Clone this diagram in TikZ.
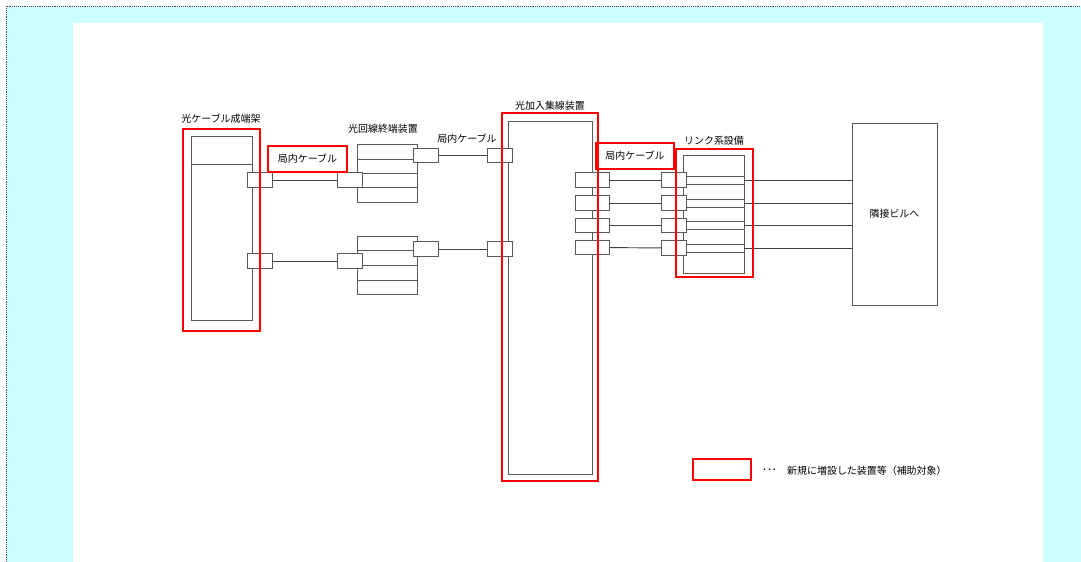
\documentclass[tikz,border=0pt]{standalone}
\usepackage{fontspec}
\setmainfont{Noto Sans CJK JP}
\usetikzlibrary{positioning}
\definecolor{bgcyan}{HTML}{CCFFFF}

\begin{document}
\begin{tikzpicture}[
  x=0.03cm, y=-0.03cm,
  every node/.style={font=\fontsize{8.5}{10}\selectfont, inner sep=0pt},
  unit/.style={draw=black!65, line width=0.8pt},
  port/.style={draw=black!65, fill=white, line width=0.8pt, minimum width=0.75cm, minimum height=0.43cm},
  wideport/.style={port, minimum width=1.02cm},
  redbox/.style={draw=red, line width=2.4pt},
  cable/.style={draw=black!75, line width=0.8pt}
]
\useasboundingbox (0,0) rectangle (1081,562);
\fill[bgcyan] (6,6) rectangle (1081,562);
\fill[white] (73,23) rectangle (1043,562);
\draw[black!70, dash pattern=on 0.8pt off 0.8pt, line width=0.8pt] (6,562) -- (6,6) -- (1081,6);

% 光ケーブル成端架
\node[unit, minimum width=1.83cm, minimum height=5.52cm] (frame) at (221.5,228) {};
\draw[unit] (frame.west |- 0,164) -- (frame.east |- 0,164);
\node at (221,119) {光ケーブル成端架};
\node[port] (fp1) at (259.5,180) {};
\node[port] (fp2) at (259.5,261) {};

% 光回線終端装置
\node[unit, minimum width=1.8cm, minimum height=1.74cm] (onu1) at (387,173) {};
\node[unit, minimum width=1.8cm, minimum height=1.74cm] (onu2) at (387,265) {};
\foreach \y in {159,173,187} \draw[unit] (onu1.west |- 0,\y) -- (onu1.east |- 0,\y);
\foreach \y in {250,265,280} \draw[unit] (onu2.west |- 0,\y) -- (onu2.east |- 0,\y);
\node at (383,129) {光回線終端装置};
\node[port] (oi1) at (349.5,180) {};
\node[port] (oi2) at (349.5,261) {};
\node[port] (oo1) at (426,155.5) {};
\node[port] (oo2) at (426,249) {};

% 光加入集線装置
\node[unit, minimum width=2.52cm, minimum height=10.59cm] (conc) at (550,297.5) {};
\node at (550,106) {光加入集線装置};
\node[port] (ci1) at (500,155.5) {};
\node[port] (ci2) at (500,249) {};
\node[wideport] (co1) at (592,180) {};
\node[wideport] (co2) at (592,203) {};
\node[wideport] (co3) at (592,225.5) {};
\node[wideport] (co4) at (592,247.5) {};
\node at (467,139) {局内ケーブル};

% リンク系設備
\node[unit, minimum width=1.83cm, minimum height=3.54cm] (link) at (713.5,214) {};
\node at (714,141) {リンク系設備};
\node[port] (lp1) at (674,180) {};
\node[port] (lp2) at (674,203) {};
\node[port] (lp3) at (674,225.5) {};
\node[port] (lp4) at (674,248) {};
\foreach \i in {1,...,4} {
  \draw[unit] ([yshift=-0.12cm]lp\i.east) -- ([yshift=-0.12cm]link.east |- lp\i.east);
  \draw[unit] ([yshift=0.12cm]lp\i.east) -- ([yshift=0.12cm]link.east |- lp\i.east);
}

% 隣接ビル
\node[unit, minimum width=2.55cm, minimum height=5.46cm] (bldg) at (894.5,214) {隣接ビルへ};

\draw[cable] (fp1) -- (oi1);
\draw[cable] (fp2) -- (oi2);
\draw[cable] (oo1) -- (ci1);
\draw[cable] (oo2) -- (ci2);
\foreach \i in {1,...,4} {
  \draw[cable] (co\i) -- (lp\i);
  \draw[cable] (link.east |- lp\i.east) -- (bldg.west |- lp\i.east);
}

% 新規増設
\node[redbox, minimum width=2.31cm, minimum height=6.06cm] (frameR) at (221.5,230) {};
\node[redbox, minimum width=2.88cm, minimum height=11.04cm] (concR) at (550,297) {};
\node[redbox, minimum width=2.31cm, minimum height=3.84cm] (linkR) at (714.5,213) {};
\node[redbox, minimum width=2.37cm, minimum height=0.78cm] (cab1) at (307.5,159) {局内ケーブル};
\node[redbox, minimum width=2.34cm, minimum height=0.78cm] (cab2) at (635,156) {局内ケーブル};

% 凡例
\node[redbox, minimum width=1.74cm, minimum height=0.63cm] (legbox) at (722,469.5) {};
\node (legdots) at (769.5,471) {･･･};
\node[anchor=west] (legtext) at (787,471) {新規に増設した装置等（補助対象）};
\end{tikzpicture}
\end{document}
